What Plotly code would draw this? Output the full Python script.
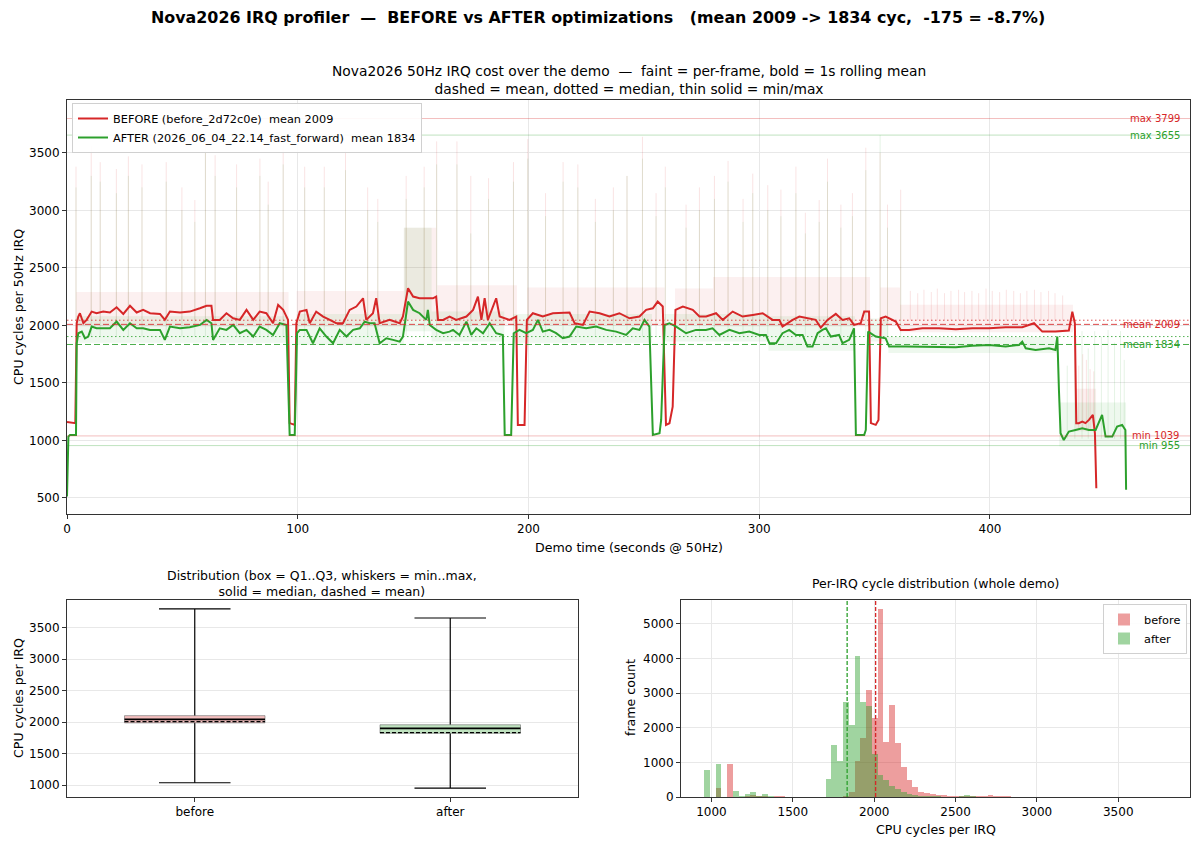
import numpy as np
import plotly.graph_objects as go

W, H = 1200, 845
RED = "#d62728"
GREEN = "#2ca02c"
FONT = "DejaVu Sans"

# ---------------- summary statistics ----------------
stat_labels = ["before", "after"]
stat_min = [1039, 955]
stat_max = [3799, 3655]
stat_mean = [2009, 1834]
stat_median = [2045, 1903]
stat_q1 = [1990, 1825]
stat_q3 = [2105, 1960]

# ---------------- 1 s rolling mean ----------------
before_t = [0, 3.6, 4.2, 4.9, 5.6, 7.1, 8.5, 10.7, 12.8, 15.7, 18.6, 21.5, 24.4, 27.3, 30.2, 33, 36, 40.3,
            42.4, 44.6, 49, 53.2, 57.6, 60.5, 62.6, 63.3, 66.2, 69.1, 72, 74.9, 77.8, 80.7, 83.5, 86.4, 89.3,
            91.5, 93.7, 95.8, 96.5, 98.7, 99.4, 100.9, 103.8, 105.2, 108, 111, 113.9, 116.7, 119.6, 122.5,
            125.4, 128.3, 129.7, 132.6, 134, 135.5, 139.8, 144.2, 145.6, 147.8, 150, 152.8, 155.7, 158.6, 160,
            160.8, 163, 165.8, 168.7, 173.1, 176, 178.1, 179.6, 181, 182.4, 186, 187.5, 191.8, 194.7, 195.4,
            198.3, 199.3, 201.9, 206.2, 210.6, 214.9, 217.8, 220, 223.6, 226.5, 230.8, 235.1, 239.4, 243.8,
            248.1, 251, 253.9, 256, 258.2, 259.6, 261.1, 262.5, 263.7, 266.9, 271.2, 274.1, 277, 281.3, 284.2,
            288.5, 292.8, 297.2, 301.5, 305.8, 308.7, 310.1, 314.5, 317.4, 321.7, 324.5, 326.7, 329.6, 333.2,
            336.1, 339, 341.1, 344, 345.5, 347.6, 348.4, 350.5, 351.7, 352.7, 354.8, 359.2, 361.3, 365, 370.7,
            377.9, 385.2, 392.4, 399.6, 406.8, 414, 419.1, 422.7, 428.4, 434.2, 435.7, 436.8, 437.4, 438.5,
            440, 441.4, 442.9, 444.6, 445.5, 446.1]
before_roll = [1160, 1150, 2019, 2077, 2106, 2019, 2048, 2120, 2106, 2120, 2112, 2158, 2100, 2170, 2112, 2135,
               2106, 2100, 2048, 2120, 2112, 2120, 2149, 2170, 2170, 2048, 2048, 2106, 2062, 2048, 2135, 2048,
               2120, 2106, 2019, 2178, 2135, 2048, 1150, 1135, 2019, 2120, 2135, 2019, 2120, 2077, 2048, 2019,
               2019, 2135, 2164, 2236, 2048, 2106, 2236, 2019, 2048, 2019, 2077, 2323, 2251, 2236, 2236, 2236,
               2251, 2048, 2048, 2077, 2048, 2077, 2135, 2251, 2048, 2236, 2048, 2236, 2077, 2048, 2077, 1135,
               1135, 2048, 2106, 2077, 2106, 2106, 2112, 2019, 2004, 2120, 2106, 2077, 2106, 2062, 2077, 2135,
               2149, 2207, 2164, 1135, 1149, 1294, 2135, 2164, 2135, 2077, 2077, 2106, 2048, 2120, 2077, 2091,
               2106, 2048, 2048, 1990, 2048, 2077, 2062, 2048, 1980, 2048, 2100, 2048, 2062, 2004, 2019, 2120,
               2120, 1150, 1135, 1178, 2062, 2077, 2033, 1961, 1961, 1975, 1975, 1967, 1975, 1975, 1984, 1984,
               2019, 1946, 1946, 1955, 2120, 2019, 1150, 1150, 1164, 1150, 1178, 1222, 1062, 584]

after_t = [0, 0.6, 1.3, 3.9, 4.2, 4.9, 6.4, 7.8, 9.2, 10.7, 12.8, 15.7, 18.6, 21.5, 24.4, 27.3, 30.2, 33, 36,
           40.3, 42.4, 44.6, 49, 53.2, 57.6, 60.5, 62.6, 63.3, 66.2, 69.1, 72, 74.9, 77.8, 80.7, 83.5, 86.4, 89.3,
           92.2, 95.1, 96.5, 98.7, 99.7, 100.9, 103.8, 106.6, 109.5, 112.4, 115.3, 118.2, 121.1, 124, 126.9, 129,
           131.2, 133.3, 135.5, 138.4, 141.3, 144.2, 145.6, 147.8, 150, 152.8, 155.7, 156.4, 157.2, 160, 163,
           165.8, 167.3, 170.1, 173.1, 175.2, 177.4, 180.3, 183.2, 186, 188.9, 189.7, 192.5, 193.6, 196.1, 199,
           201.9, 204.1, 206.2, 209.1, 212, 214.9, 217.8, 220.7, 225, 229.3, 233.7, 238, 242.3, 245.2, 248.1,
           250.3, 252.4, 253.9, 256.8, 257.5, 259, 261.1, 264, 268.3, 272.6, 276.9, 279.8, 282.7, 287.1, 291.4,
           295.7, 300, 302.9, 304.4, 307.3, 310.1, 313, 315.9, 318.8, 320.9, 323.1, 325.3, 327.4, 328.9, 331,
           334.6, 336.1, 339, 341.1, 341.9, 345.5, 346.2, 347.2, 350.5, 354.8, 356.3, 363.5, 370.7, 377.9, 385.2,
           392.4, 399.6, 406.8, 412.6, 414, 415.5, 419.8, 425.6, 428.4, 429.2, 429.9, 430.6, 432, 434.2, 437.1,
           440, 442.9, 445.8, 448.6, 450.1, 453, 455.1, 457.3, 458.7, 459]
after_roll = [512, 1033, 1048, 1048, 1845, 1932, 1946, 1888, 1903, 1990, 1975, 1975, 1975, 2033, 1961, 2019,
              1975, 1975, 1961, 1961, 1874, 1990, 1975, 1984, 2004, 2048, 2019, 1874, 1975, 1961, 2004, 1932,
              1961, 1903, 1990, 1961, 1917, 2019, 2004, 1048, 1048, 1932, 1961, 1961, 1845, 1975, 1903, 1845,
              1961, 1903, 1961, 1975, 2033, 2019, 2019, 1845, 1888, 1874, 1859, 1903, 2207, 2135, 2106, 2048,
              2135, 2004, 1961, 1932, 1946, 1961, 1917, 2033, 1917, 1975, 1932, 2019, 1932, 1917, 1048, 1048,
              1932, 1961, 1932, 1961, 2048, 1946, 1961, 1932, 1888, 1903, 1990, 1975, 1990, 1961, 1946, 1917,
              1975, 1961, 2048, 1990, 1048, 1062, 1178, 2004, 2019, 1990, 1932, 1961, 1961, 1975, 1917, 1961,
              1932, 1946, 1917, 1917, 1845, 1845, 1932, 1961, 1917, 1917, 1816, 1816, 1932, 1961, 1975, 1903,
              1917, 1845, 1874, 1975, 1048, 1048, 1091, 1946, 1903, 1888, 1816, 1816, 1816, 1816, 1810, 1822,
              1830, 1816, 1830, 1859, 1801, 1787, 1801, 1787, 1903, 1439, 1062, 1004, 1077, 1091, 1106, 1091,
              1091, 1222, 1033, 1033, 1120, 1135, 1091, 570]

# ---------------- faint per-frame envelope ----------------
before_band_t0 = [4, 99.5, 146, 160.5, 199.5, 263.5, 280, 352.5, 361, 437]
before_band_t1 = [96, 146, 160, 195, 259, 280, 348, 361, 436, 446]
before_band_lo = [1990, 1990, 2050, 2000, 2000, 2010, 1990, 2000, 1940, 1080]
before_band_hi = [2290, 2300, 2850, 2350, 2330, 2320, 2420, 2330, 2180, 1450]

after_band_t0 = [4, 99.5, 146, 158, 193.5, 259, 304, 347, 356, 430]
after_band_t1 = [96, 146, 158, 189.5, 253.5, 304, 341.5, 356, 429, 459]
after_band_lo = [1850, 1830, 1950, 1860, 1850, 1860, 1780, 1860, 1760, 950]
after_band_hi = [2080, 2100, 2850, 2120, 2100, 2100, 2080, 2060, 1900, 1330]

# per-frame spikes (same demo events for both runs)
spike_t = [3.9, 10.5, 14.4, 21.4, 26.6, 32.5, 43, 49.8, 55.4, 60, 64.2, 73.5, 83.6, 87.2, 93.7, 103, 111.5,
           120.7, 130.3, 134.7, 147, 154.8, 160.2, 169, 175, 182.7, 193.5, 199.7, 207.4, 215, 221.4, 229,
           236.8, 242.7, 249.4, 255.3, 259.3, 268.3, 274.1, 280.6, 286.5, 293, 297.2, 303.7, 309.4, 315.9,
           320, 326, 329.6, 335.4, 340.4, 346.2, 352.4, 355.6, 361.3]
before_spike = [3380, 3560, 3420, 3360, 3470, 3400, 3420, 3200, 3090, 3799, 3480, 3400, 3450, 3250, 3560,
                3380, 3380, 3540, 3200, 3100, 3300, 3380, 3600, 3600, 3300, 3280, 3420, 3620, 3150, 3420,
                3400, 3100, 3200, 3300, 3640, 3150, 3380, 3050, 3200, 3300, 3430, 3100, 3320, 3220, 3180,
                3380, 2980, 3090, 3450, 3050, 3150, 3545, 3500, 3050, 3180]
after_spike = [3200, 3300, 3250, 3150, 3300, 3200, 3250, 3000, 2900, 3500, 3300, 3200, 3300, 3050, 3400,
               3200, 3200, 3350, 3000, 2900, 3100, 3200, 3400, 3400, 2800, 3100, 3250, 3450, 2950, 3250,
               3200, 2900, 3000, 3300, 3450, 2950, 3200, 2850, 3000, 3100, 3250, 2900, 3150, 3000, 2950,
               3150, 2800, 2900, 3250, 2850, 2950, 3350, 3655, 2850, 3000]

minor_t = [365.5, 368.7, 371.4, 374.6, 377.2, 380.3, 383.1, 386.4, 389.0, 392.2, 395.1, 398.3, 401.0, 404.2,
           407.1, 410.3, 413.2, 416.0, 419.3, 422.1, 425.4, 428.2, 431.5]
before_minor = [2300, 2280, 2310, 2290, 2320, 2280, 2300, 2310, 2290, 2300, 2280, 2320, 2300, 2290, 2310,
                2300, 2280, 2300, 2310, 2290, 2300, 2280, 2260]

end_before_t = [438.5, 440.2, 441.8, 443.4, 445.0]
end_before_spike = [1650, 1750, 1700, 1620, 1600]
end_after_t = [433.5, 436.8, 439.9, 442.6, 445.4, 448.3, 451.2, 454.0, 456.6, 458.2]
end_after_spike = [1650, 1900, 1950, 1800, 1950, 1900, 1960, 1850, 1950, 1700]

# ---------------- histogram (80 shared bins over min..max) ----------------
hist_lo, hist_hi, hist_nbins = 955, 3799, 80
before_counts = [0, 0, 250, 0, 950, 0, 0, 40, 60, 30, 30, 10, 20, 20, 10, 0, 0, 0, 0, 0,
                 0, 0, 0, 10, 30, 150, 1050, 1700, 3080, 2280, 5420, 1580, 2670, 1560, 860, 480, 290, 150, 110, 80,
                 60, 50, 40, 30, 30, 25, 30, 40, 30, 50, 30, 20, 15, 10, 8, 5, 5, 3, 3, 2,
                 2, 2, 1, 1, 1, 1, 1, 1, 1, 1, 1, 1, 1, 1, 1, 1, 1, 1, 1, 1]
after_counts = [780, 0, 950, 0, 0, 170, 20, 80, 135, 30, 100, 15, 10, 5, 3, 2, 0, 0, 0, 0,
                0, 530, 1500, 1040, 2750, 2070, 4060, 2740, 2640, 1250, 650, 480, 330, 230, 150, 100, 60, 40, 30, 20,
                15, 10, 10, 10, 15, 50, 20, 10, 5, 5, 3, 2, 2, 1, 1, 1, 1, 1, 1, 1,
                1, 1, 1, 1, 1, 1, 1, 1, 1, 1, 1, 1, 1, 1, 1, 1, 1, 1, 1, 1]

main_title = ["Nova2026 50Hz IRQ cost over the demo  \u2014  faint = per-frame, bold = 1s rolling mean",
              "dashed = mean, dotted = median, thin solid = min/max"]
legend_names = ["BEFORE (before_2d72c0e)  mean 2009", "AFTER (2026_06_04_22.14_fast_forward)  mean 1834"]
sup_title = "Nova2026 IRQ profiler  \u2014  BEFORE vs AFTER optimizations   (mean 2009 -> 1834 cyc,  -175 = -8.7%)"


def keep_spaces(s):
    return s.replace("  ", " \u00a0")


def rgba(hexc, a):
    h = hexc.lstrip("#")
    return "rgba(%d,%d,%d,%.3f)" % (int(h[0:2], 16), int(h[2:4], 16), int(h[4:6], 16), a)


def band_xy(t0s, t1s, los, his):
    xs, ys = [], []
    for a, b, lo, hi in zip(t0s, t1s, los, his):
        xs += [a, b, b, a, a, None]
        ys += [lo, lo, hi, hi, lo, None]
    return xs, ys


def spike_xy(ts, peaks, base):
    xs, ys = [], []
    for t, p in zip(ts, peaks):
        xs += [t, t, None]
        ys += [base, p, None]
    return xs, ys


fig = go.Figure()
cols = [RED, GREEN]

# ---- main: faint per-frame
bands = [(before_band_t0, before_band_t1, before_band_lo, before_band_hi),
         (after_band_t0, after_band_t1, after_band_lo, after_band_hi)]
band_alpha = [0.07, 0.08]
for i, b in enumerate(bands):
    bx, by = band_xy(*b)
    fig.add_trace(go.Scatter(x=bx, y=by, fill="toself", fillcolor=rgba(cols[i], band_alpha[i]),
                             line=dict(width=0), mode="lines", showlegend=False, hoverinfo="skip",
                             xaxis="x", yaxis="y"))
spike_sets = [(spike_t, before_spike, stat_median[0], RED),
              (spike_t, after_spike, stat_median[1], GREEN),
              (minor_t, before_minor, stat_median[0], RED),
              (end_before_t, end_before_spike, stat_min[0] + 60, RED),
              (end_after_t, end_after_spike, stat_min[1] + 60, GREEN)]
for ts, ps, base, c in spike_sets:
    sx, sy = spike_xy(ts, ps, base)
    fig.add_trace(go.Scatter(x=sx, y=sy, mode="lines", line=dict(color=rgba(c, 0.14), width=0.9),
                             showlegend=False, hoverinfo="skip", xaxis="x", yaxis="y"))

# ---- main: bold rolling means
fig.add_trace(go.Scatter(x=before_t, y=before_roll, mode="lines", line=dict(color=RED, width=2),
                         name=keep_spaces(legend_names[0]), legend="legend", xaxis="x", yaxis="y"))
fig.add_trace(go.Scatter(x=after_t, y=after_roll, mode="lines", line=dict(color=GREEN, width=2),
                         name=keep_spaces(legend_names[1]), legend="legend", xaxis="x", yaxis="y"))

shapes = []
annotations = []
for i in range(2):
    c = cols[i]
    for val, dash, alpha in [(stat_max[i], "solid", 0.3), (stat_min[i], "solid", 0.3),
                             (stat_mean[i], "6px,3px", 0.85), (stat_median[i], "1.5px,2.5px", 0.8)]:
        shapes.append(dict(type="line", xref="x domain", x0=0, x1=1, yref="y", y0=val, y1=val,
                           line=dict(color=rgba(c, alpha), width=1, dash=dash), layer="above"))
    for lab, val in [("max", stat_max[i]), ("mean", stat_mean[i]), ("min", stat_min[i])]:
        annotations.append(dict(xref="x domain", x=0.993, yref="y", y=val, text="%s %d" % (lab, val),
                                xanchor="right", yanchor="middle", showarrow=False,
                                font=dict(family=FONT, size=10, color=c)))

# ---- box plot (drawn from stats)
box_w = 0.55
cap_w = 0.28
box_fill = [rgba(RED, 0.3), rgba(GREEN, 0.3)]
for i in range(2):
    p = i + 1
    fig.add_trace(go.Scatter(x=[p, p, None, p, p], y=[stat_min[i], stat_q1[i], None, stat_q3[i], stat_max[i]],
                             mode="lines", line=dict(color="black", width=1.2), showlegend=False,
                             hoverinfo="skip", xaxis="x2", yaxis="y2"))
    fig.add_trace(go.Scatter(x=[p - cap_w / 2, p + cap_w / 2, None, p - cap_w / 2, p + cap_w / 2],
                             y=[stat_min[i], stat_min[i], None, stat_max[i], stat_max[i]],
                             mode="lines", line=dict(color="black", width=1.2), showlegend=False,
                             hoverinfo="skip", xaxis="x2", yaxis="y2"))
    fig.add_trace(go.Scatter(x=[p - box_w / 2, p + box_w / 2, p + box_w / 2, p - box_w / 2, p - box_w / 2],
                             y=[stat_q1[i], stat_q1[i], stat_q3[i], stat_q3[i], stat_q1[i]],
                             fill="toself", fillcolor=box_fill[i], mode="lines",
                             line=dict(color="rgba(110,110,110,0.6)", width=1), showlegend=False,
                             hoverinfo="skip", xaxis="x2", yaxis="y2"))
    fig.add_trace(go.Scatter(x=[p - box_w / 2, p + box_w / 2], y=[stat_median[i]] * 2, mode="lines",
                             line=dict(color="black", width=1.8), showlegend=False, hoverinfo="skip",
                             xaxis="x2", yaxis="y2"))
    fig.add_trace(go.Scatter(x=[p - box_w / 2, p + box_w / 2], y=[stat_mean[i]] * 2, mode="lines",
                             line=dict(color="black", width=1.3, dash="4px,2px"), showlegend=False,
                             hoverinfo="skip", xaxis="x2", yaxis="y2"))

# ---- histogram
edges = np.linspace(hist_lo, hist_hi, hist_nbins + 1)
centers = (edges[:-1] + edges[1:]) / 2
bw = edges[1] - edges[0]
fig.add_trace(go.Bar(x=centers, y=before_counts, width=bw, marker=dict(color=rgba(RED, 0.45), line=dict(width=0)),
                     name="before", legend="legend2", xaxis="x3", yaxis="y3"))
fig.add_trace(go.Bar(x=centers, y=after_counts, width=bw, marker=dict(color=rgba(GREEN, 0.45), line=dict(width=0)),
                     name="after", legend="legend2", xaxis="x3", yaxis="y3"))
for i in range(2):
    shapes.append(dict(type="line", xref="x3", x0=stat_mean[i], x1=stat_mean[i], yref="y3 domain", y0=0, y1=1,
                       line=dict(color=cols[i], width=1.3, dash="4px,2px"), layer="above"))


def px_x(v):
    return v / W


def px_y(v):
    return 1 - v / H


annotations += [
    dict(xref="paper", yref="paper", x=px_x(598), y=px_y(17), text="<b>%s</b>" % keep_spaces(sup_title),
         showarrow=False, xanchor="center", yanchor="middle", font=dict(family=FONT, size=15.9, color="black")),
    dict(xref="paper", yref="paper", x=px_x(628.5), y=px_y(99), text=keep_spaces(main_title[0]) + "<br>" + main_title[1],
         showarrow=False, xanchor="center", yanchor="bottom", font=dict(family=FONT, size=13.8, color="black")),
    dict(xref="paper", yref="paper", x=px_x(322), y=px_y(601),
         text="Distribution (box = Q1..Q3, whiskers = min..max,<br>solid = median, dashed = mean)",
         showarrow=False, xanchor="center", yanchor="bottom", font=dict(family=FONT, size=12.5, color="black")),
    dict(xref="paper", yref="paper", x=px_x(935.5), y=px_y(593), text="Per-IRQ cycle distribution (whole demo)",
         showarrow=False, xanchor="center", yanchor="bottom", font=dict(family=FONT, size=12.5, color="black")),
    dict(xref="paper", yref="paper", x=px_x(628.5), y=px_y(547), text="Demo time (seconds @ 50Hz)",
         showarrow=False, xanchor="center", yanchor="middle", font=dict(family=FONT, size=12.6, color="black")),
    dict(xref="paper", yref="paper", x=px_x(18), y=px_y(307), text="CPU cycles per 50Hz IRQ", textangle=-90,
         showarrow=False, xanchor="center", yanchor="middle", font=dict(family=FONT, size=12.6, color="black")),
    dict(xref="paper", yref="paper", x=px_x(18), y=px_y(698), text="CPU cycles per IRQ", textangle=-90,
         showarrow=False, xanchor="center", yanchor="middle", font=dict(family=FONT, size=12.6, color="black")),
    dict(xref="paper", yref="paper", x=px_x(935.5), y=px_y(829), text="CPU cycles per IRQ",
         showarrow=False, xanchor="center", yanchor="middle", font=dict(family=FONT, size=12.6, color="black")),
    dict(xref="paper", yref="paper", x=px_x(630), y=px_y(698), text="frame count", textangle=-90,
         showarrow=False, xanchor="center", yanchor="middle", font=dict(family=FONT, size=12.6, color="black")),
]

axis_common = dict(showline=True, mirror=True, linecolor="#333333", linewidth=1, ticks="outside", ticklen=4,
                   tickcolor="#333333", tickfont=dict(family=FONT, size=12, color="black"),
                   gridcolor="#e8e8e8", gridwidth=1, zeroline=False, automargin=False)

fig.update_layout(
    width=W, height=H, margin=dict(l=0, r=0, t=0, b=0), plot_bgcolor="white", paper_bgcolor="white",
    font=dict(family=FONT, size=12, color="black"), barmode="overlay", bargap=0,
    xaxis=dict(domain=[px_x(67), px_x(1190)], range=[0, 486.7], dtick=100, tick0=0, anchor="y",
               showgrid=True, **axis_common),
    yaxis=dict(domain=[px_y(514), px_y(100)], range=[360, 3960], dtick=500, tick0=0, anchor="x",
               showgrid=True, **axis_common),
    xaxis2=dict(domain=[px_x(67), px_x(578)], range=[0.5, 2.5], tickvals=[1, 2], ticktext=stat_labels,
                anchor="y2", showgrid=False, **axis_common),
    yaxis2=dict(domain=[px_y(797), px_y(600)], range=[813, 3941], dtick=500, tick0=0, anchor="x2",
                showgrid=True, **axis_common),
    xaxis3=dict(domain=[px_x(681), px_x(1190)], range=[813, 3941], dtick=500, tick0=0, anchor="y3",
                showgrid=True, **axis_common),
    yaxis3=dict(domain=[px_y(797), px_y(600)], range=[0, 5690], dtick=1000, tick0=0, anchor="x3",
                showgrid=True, **axis_common),
    legend=dict(x=px_x(72), y=px_y(103), xanchor="left", yanchor="top", bgcolor="rgba(255,255,255,0.9)",
                bordercolor="#d0d0d0", borderwidth=1, font=dict(family=FONT, size=11.3, color="black"),
                tracegroupgap=0, itemwidth=30),
    legend2=dict(x=px_x(1187), y=px_y(604), xanchor="right", yanchor="top", bgcolor="rgba(255,255,255,0.9)",
                 bordercolor="#d0d0d0", borderwidth=1, font=dict(family=FONT, size=11.3, color="black"),
                 itemwidth=30),
    shapes=shapes, annotations=annotations, showlegend=True, hovermode=False,
)

fig.write_html("out.html", config={"displayModeBar": False},
               post_script="document.body.style.margin='0';")
